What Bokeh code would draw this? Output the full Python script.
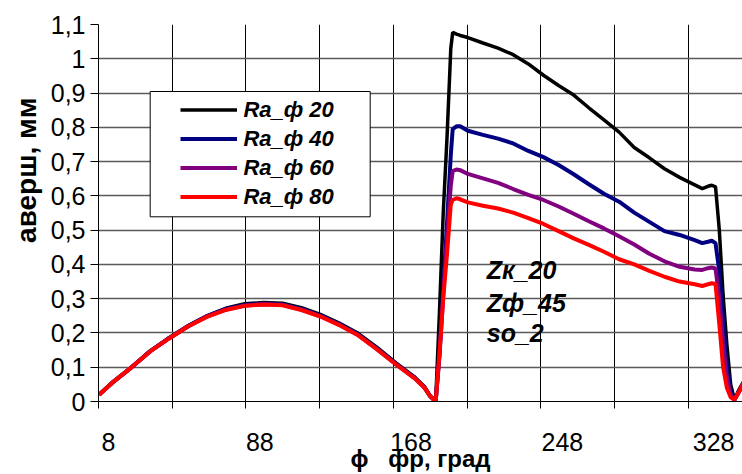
from bokeh.plotting import figure
from bokeh.models import Range1d, FixedTicker, Legend, LegendItem, Label, BoxAnnotation
from bokeh.embed import file_html
from bokeh.resources import INLINE

# ---------------- data ----------------
phi = [3, 10, 20, 30, 40, 50, 60, 70, 80, 90, 100, 110, 120, 130, 140, 150, 160, 170,
       175, 178, 181, 183, 185, 187, 189, 190, 192, 194, 198,
       206, 214, 222, 230, 238, 246, 254, 262, 270, 278, 286, 294, 302, 310, 318,
       322, 325, 327, 329, 331, 333, 335, 337, 339, 341, 344]

ra_20 = [0.02, 0.055, 0.099, 0.147, 0.186, 0.221, 0.250, 0.272, 0.285, 0.289, 0.287, 0.274,
         0.254, 0.229, 0.199, 0.158, 0.113, 0.071, 0.044, 0.017, 0.0,
         0.26, 0.55, 0.77, 1.03, 1.077, 1.072, 1.068, 1.062,
         1.046, 1.031, 1.012, 0.985, 0.952, 0.922, 0.894, 0.857, 0.822, 0.786, 0.741,
         0.711, 0.679, 0.654, 0.632,
         0.621, 0.628, 0.631, 0.626, 0.50, 0.31, 0.165, 0.05, 0.005, 0.03, 0.06]

ra_40 = [0.02, 0.055, 0.099, 0.147, 0.185, 0.220, 0.249, 0.270, 0.282, 0.286, 0.284, 0.271,
         0.251, 0.226, 0.196, 0.155, 0.110, 0.069, 0.042, 0.016, 0.0,
         0.14, 0.33, 0.52, 0.72, 0.795, 0.803, 0.803, 0.790,
         0.778, 0.767, 0.753, 0.731, 0.713, 0.690, 0.663, 0.634, 0.606, 0.583, 0.551,
         0.524, 0.497, 0.486, 0.471,
         0.462, 0.466, 0.469, 0.462, 0.38, 0.24, 0.11, 0.03, 0.005, 0.025, 0.055]

ra_60 = [0.02, 0.055, 0.099, 0.146, 0.184, 0.219, 0.248, 0.268, 0.280, 0.284, 0.282, 0.268,
         0.249, 0.224, 0.194, 0.153, 0.109, 0.068, 0.041, 0.016, 0.0,
         0.13, 0.31, 0.48, 0.63, 0.672, 0.677, 0.675, 0.664,
         0.651, 0.638, 0.620, 0.603, 0.588, 0.569, 0.548, 0.526, 0.505, 0.482, 0.458,
         0.431, 0.409, 0.393, 0.385,
         0.384, 0.389, 0.391, 0.388, 0.30, 0.17, 0.07, 0.02, 0.005, 0.025, 0.055]

ra_80 = [0.02, 0.055, 0.099, 0.146, 0.184, 0.219, 0.247, 0.267, 0.279, 0.283, 0.281, 0.267,
         0.248, 0.223, 0.193, 0.152, 0.108, 0.067, 0.041, 0.016, 0.0,
         0.14, 0.30, 0.43, 0.575, 0.588, 0.593, 0.590, 0.581,
         0.571, 0.563, 0.551, 0.535, 0.518, 0.497, 0.476, 0.457, 0.437, 0.415, 0.400,
         0.381, 0.364, 0.350, 0.342,
         0.337, 0.342, 0.345, 0.343, 0.225, 0.10, 0.04, 0.012, 0.005, 0.025, 0.055]

series_names = ["Ra_ф 20", "Ra_ф 40", "Ra_ф 60", "Ra_ф 80"]
series_colors = ["#000000", "#000080", "#800080", "#ff0000"]
series_widths = [3.5, 4, 4, 4]

y_ticks = [0, 0.1, 0.2, 0.3, 0.4, 0.5, 0.6, 0.7, 0.8, 0.9, 1, 1.1]
y_tick_labels = ["0", "0,1", "0,2", "0,3", "0,4", "0,5", "0,6", "0,7", "0,8", "0,9", "1", "1,1"]
x_tick_values = [8, 88, 168, 248, 328]

x_title = "\u03d5\u00a0\u00a0\u00a0фр, град"
y_title = "\u00a0" * 11 + "aверш, мм"

notes = ["Zк_20", "Zф_45", "so_2"]
notes_x = 208
notes_y = [0.384, 0.288, 0.200]

# ---------------- layout ----------------
W, H = 742, 474
ML, MT, MB = 98, 24, 72
PX_PER_DEG = 1.891
X0 = 2.7
x_end = X0 + (W - ML) / PX_PER_DEG
grid_x = [X0 + 39 * k for k in range(9)]

FONT = "Liberation Sans"

p = figure(width=W, height=H, output_backend="svg", toolbar_location=None,
           x_range=Range1d(X0, x_end), y_range=Range1d(0, 1.1),
           min_border_left=ML, min_border_right=0, min_border_top=MT,
           min_border_bottom=MB)
p.outline_line_color = None
p.background_fill_color = "white"
p.border_fill_color = "white"

# grids
p.ygrid.ticker = FixedTicker(ticks=y_ticks)
p.ygrid.grid_line_color = "#5a5a5a"
p.ygrid.grid_line_width = 1.6
p.xgrid.ticker = FixedTicker(ticks=grid_x)
p.xgrid.grid_line_color = "#000000"
p.xgrid.grid_line_width = 1

# y axis
ya = p.yaxis[0]
ya.ticker = FixedTicker(ticks=y_ticks)
ya.major_label_overrides = dict(zip(y_ticks, y_tick_labels))
ya.major_label_text_font = FONT
ya.major_label_text_font_size = "25px"
ya.major_label_text_color = "#000000"
ya.major_tick_out = 8
ya.major_tick_in = 0
ya.minor_tick_out = 0
ya.minor_tick_in = 0
ya.major_label_standoff = 5
ya.axis_line_color = "#000000"
ya.major_tick_line_color = "#000000"
ya.axis_label = y_title
ya.axis_label_text_font = FONT
ya.axis_label_text_font_size = "28px"
ya.axis_label_text_font_style = "bold"
ya.axis_label_text_color = "#000000"
ya.axis_label_standoff = 6

# x axis
xa = p.xaxis[0]
xa.ticker = FixedTicker(ticks=x_tick_values, minor_ticks=grid_x)
xa.major_tick_out = 0
xa.major_tick_in = 0
xa.minor_tick_out = 7
xa.minor_tick_in = 0
xa.minor_tick_line_color = "#000000"
xa.major_label_text_font = FONT
xa.major_label_text_font_size = "25px"
xa.major_label_text_color = "#000000"
xa.major_label_standoff = 24
xa.axis_line_color = "#000000"
xa.axis_label = x_title
xa.axis_label_text_font = FONT
xa.axis_label_text_font_size = "24px"
xa.axis_label_text_font_style = "bold"
xa.axis_label_text_color = "#000000"
xa.axis_label_standoff = -9

# series
renderers = []
for vals, c, w in zip([ra_20, ra_40, ra_60, ra_80], series_colors, series_widths):
    r = p.line(phi, vals, line_color=c, line_width=w)
    renderers.append(r)

# legend frame
box = BoxAnnotation(left=51.7, right=271.7, top=310, bottom=184.7,
                    left_units="screen", right_units="screen",
                    top_units="screen", bottom_units="screen",
                    fill_color="white", fill_alpha=1.0,
                    line_color="#000000", line_width=1, line_alpha=1.0)
p.add_layout(box)

legend = Legend(items=[LegendItem(label=n, renderers=[r]) for n, r in zip(series_names, renderers)],
                location=(82.4, 191.2))
legend.padding = 0
legend.margin = 0
legend.spacing = 3
legend.glyph_width = 57
legend.glyph_height = 25
legend.label_height = 25
legend.label_standoff = 6
legend.label_text_font = FONT
legend.label_text_font_size = "22px"
legend.label_text_font_style = "bold italic"
legend.label_text_color = "#000000"
legend.background_fill_alpha = 0
legend.border_line_alpha = 0
p.add_layout(legend)

# notes in plot
for t, yv in zip(notes, notes_y):
    p.add_layout(Label(x=notes_x, y=yv, text=t, text_font=FONT, text_font_size="25px",
                       text_font_style="bold italic", text_baseline="middle",
                       text_color="#000000"))

open("out.html", "w").write(file_html(p, INLINE))
